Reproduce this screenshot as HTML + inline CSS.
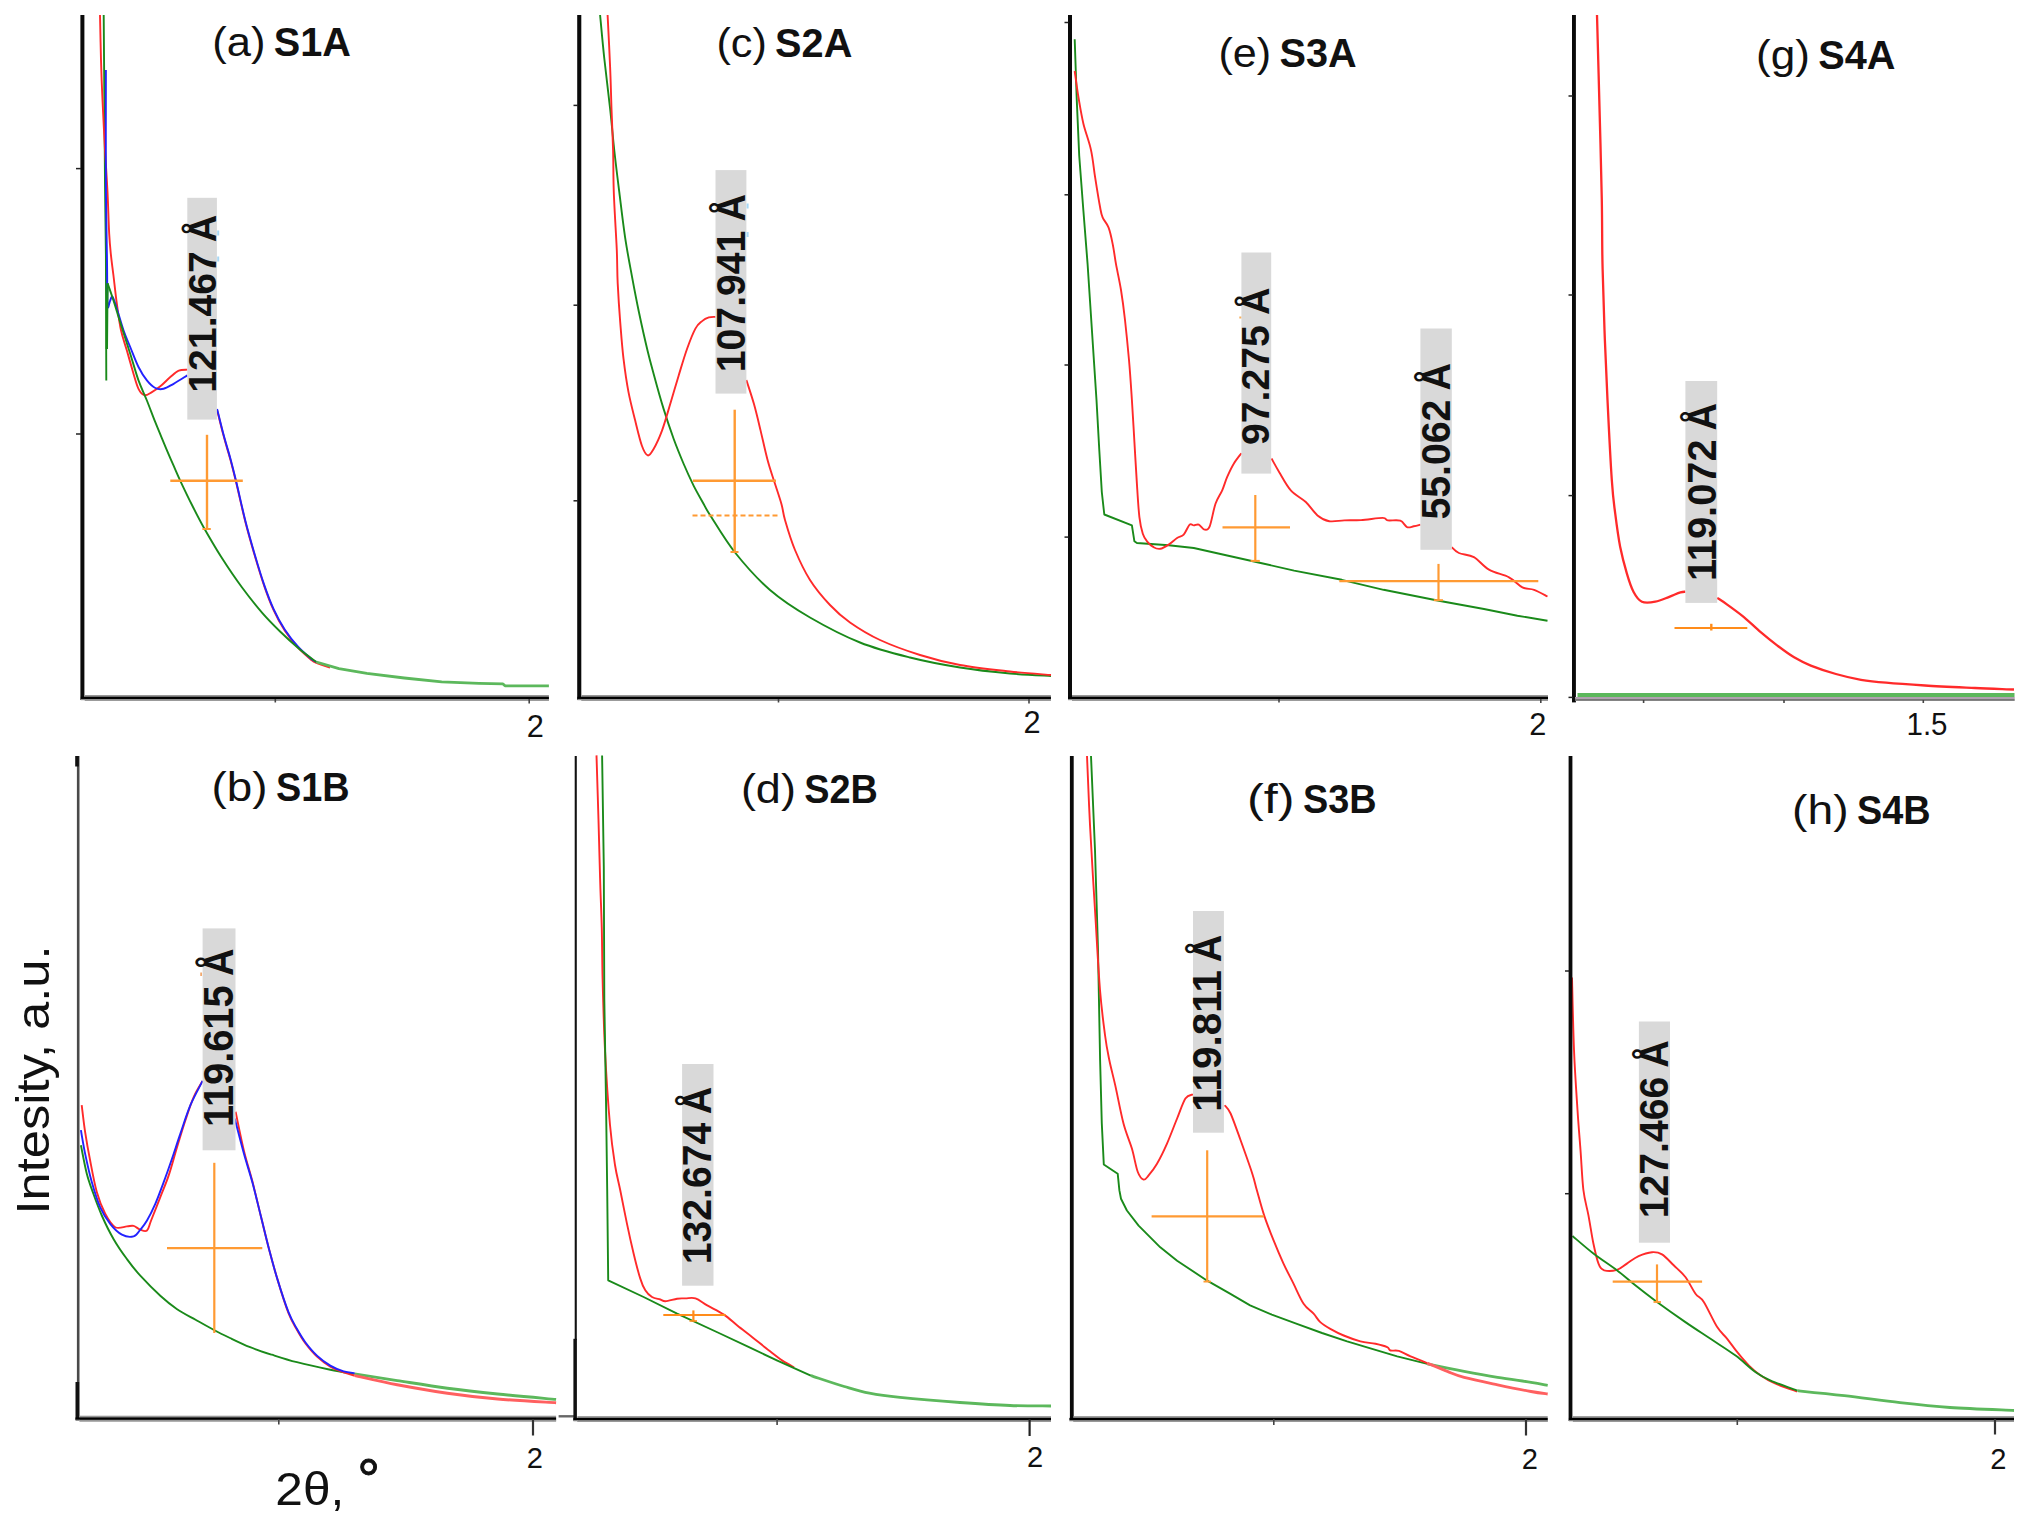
<!DOCTYPE html>
<html><head><meta charset="utf-8"><title>SAXS patterns</title>
<style>
html,body{margin:0;padding:0;background:#fff;}
body{width:2033px;height:1528px;overflow:hidden;}
svg{display:block;}
text{font-family:"Liberation Sans",sans-serif;fill:#111;}
</style></head><body>
<svg width="2033" height="1528" viewBox="0 0 2033 1528">
<rect width="2033" height="1528" fill="#fff"/>
<path d="M103.7,15.0 L105.0,183.6 L105.9,254.6 L106.3,380.4" fill="none" stroke="#1a8a1a" stroke-width="1.9" stroke-linejoin="round"/>
<path d="M100.0,15.0 C100.2,22.5 100.6,45.8 101.0,60.0 C101.4,74.2 101.8,85.0 102.5,100.0 C103.2,115.0 104.2,134.7 105.0,150.0 C105.8,165.3 106.8,178.1 107.5,192.0 C108.2,205.9 108.6,223.3 109.2,233.7 C109.8,244.1 110.2,247.7 110.9,254.6 C111.6,261.5 112.4,266.9 113.4,275.0 C114.4,283.1 115.5,294.3 116.8,303.5 C118.1,312.7 119.3,322.5 121.0,330.3 C122.7,338.1 124.7,343.1 126.8,350.3 C128.9,357.5 131.6,367.3 133.5,373.7 C135.4,380.1 136.7,385.2 138.5,388.8 C140.3,392.4 142.2,394.6 144.4,395.2 C146.6,395.8 149.2,393.6 151.9,392.1 C154.6,390.6 157.2,388.8 160.3,386.3 C163.4,383.8 167.2,379.7 170.3,377.1 C173.4,374.5 175.9,371.9 178.7,370.7 C181.5,369.4 185.9,369.8 187.3,369.6" fill="none" stroke="#ff2a2a" stroke-width="1.9" stroke-linejoin="round"/>
<path d="M217.1,409.9 C218.2,414.3 221.6,428.2 223.8,436.6 C226.0,445.0 228.5,452.5 230.5,460.0 C232.5,467.5 233.5,471.5 236.0,481.8 C238.5,492.1 242.3,509.7 245.4,522.0 C248.5,534.3 251.7,545.1 254.8,555.7 C257.9,566.3 261.0,576.6 264.1,585.6 C267.2,594.6 270.1,602.4 273.5,609.9 C276.9,617.4 280.6,624.2 284.7,630.4 C288.8,636.6 293.4,642.5 297.8,647.3 C302.2,652.1 307.7,656.8 310.8,659.4 C313.9,662.0 313.2,661.6 316.4,663.0 C319.6,664.4 327.7,666.8 330.0,667.5" fill="none" stroke="#ff2a2a" stroke-width="1.9" stroke-linejoin="round"/>
<path d="M105.9,70.0 C105.9,88.9 105.7,151.9 105.9,183.6 C106.1,215.3 106.7,239.8 107.0,260.0 C107.3,280.2 107.1,298.2 107.6,305.0 C108.1,311.8 109.2,302.4 110.0,301.0 C110.8,299.6 111.5,295.6 112.6,296.8 C113.7,298.1 115.0,302.9 116.8,308.5 C118.6,314.1 121.3,323.9 123.5,330.3 C125.7,336.7 127.7,340.9 130.2,347.0 C132.7,353.1 135.7,361.4 138.5,367.0 C141.3,372.6 144.1,376.9 146.9,380.4 C149.7,383.9 152.5,386.6 155.3,388.0 C158.1,389.4 160.6,389.5 163.6,388.8 C166.6,388.1 169.6,386.0 173.6,383.8 C177.6,381.6 185.0,376.8 187.3,375.4" fill="none" stroke="#2222ff" stroke-width="1.9" stroke-linejoin="round"/>
<path d="M217.1,408.9 C218.2,413.3 221.6,427.2 223.8,435.6 C226.0,444.0 228.5,451.5 230.5,459.0 C232.5,466.5 233.5,470.5 236.0,480.8 C238.5,491.1 242.3,508.7 245.4,521.0 C248.5,533.3 251.7,544.1 254.8,554.7 C257.9,565.3 261.0,575.6 264.1,584.6 C267.2,593.6 270.1,601.4 273.5,608.9 C276.9,616.4 280.6,623.2 284.7,629.4 C288.8,635.6 293.4,641.5 297.8,646.3 C302.2,651.1 307.7,655.8 310.8,658.4 C313.9,661.0 315.5,661.4 316.4,662.0" fill="none" stroke="#2222ff" stroke-width="1.9" stroke-linejoin="round"/>
<path d="M106.8,349.0 L107.2,300.0 L107.6,283.4" fill="none" stroke="#1a8a1a" stroke-width="2.4" stroke-linejoin="round"/>
<path d="M107.6,283.4 C108.6,286.2 111.3,293.8 113.4,300.2 C115.5,306.6 117.3,313.0 120.1,321.9 C122.9,330.8 127.1,343.9 130.2,353.7 C133.3,363.4 135.7,372.6 138.5,380.4 C141.3,388.2 144.1,393.5 146.9,400.5 C149.7,407.5 152.5,415.2 155.3,422.2 C158.1,429.2 160.6,435.1 163.6,442.3 C166.6,449.6 170.8,459.3 173.6,465.7 C176.4,472.1 177.2,474.2 180.3,480.8 C183.4,487.4 188.0,497.1 192.0,505.0 C196.0,513.0 199.5,519.9 204.3,528.5 C209.2,537.1 214.9,547.0 221.1,556.8 C227.3,566.5 234.8,577.7 241.7,587.0 C248.5,596.3 255.7,605.2 262.2,612.8 C268.7,620.3 274.7,626.2 280.9,632.3 C287.1,638.4 293.7,644.3 299.6,649.3 C305.5,654.2 313.6,659.9 316.4,662.0" fill="none" stroke="#1a8a1a" stroke-width="1.9" stroke-linejoin="round"/>
<path d="M316.4,662.0 L338.9,668.7 L366.9,673.4 L404.3,678.0 L441.7,681.8 L479.0,683.4 L503.0,683.9 L505.0,685.8 L548.9,685.9" fill="none" stroke="#5cb85c" stroke-width="2.8" stroke-linejoin="round"/>
<line x1="207" y1="434.8" x2="207" y2="529.4" stroke="#ff9a33" stroke-width="2.4"/>
<line x1="170.3" y1="480.8" x2="242.8" y2="480.8" stroke="#ff9a33" stroke-width="2.4"/>
<line x1="202.4" y1="529" x2="210.8" y2="529" stroke="#ff9a33" stroke-width="2"/>
<rect x="187.3" y="197.8" width="29.6" height="221.8" fill="#d9d9d9"/>
<g transform="translate(215.5,392.7) rotate(-90)" font-size="38.3" font-weight="bold"><text textLength="141.6" lengthAdjust="spacingAndGlyphs">121.467</text><text x="150.5" textLength="27.4" lengthAdjust="spacingAndGlyphs">Å</text></g>
<rect x="80.4" y="15" width="4" height="685" fill="#0a0a0a"/>
<rect x="84.8" y="695.0" width="464.1" height="5.8" fill="#979797"/>
<rect x="84.8" y="698.9499999999999" width="464.1" height="1.85" fill="#979797"/>
<rect x="80.8" y="696.75" width="468.1" height="2.3" fill="#000"/>
<rect x="80.8" y="698.9499999999999" width="4" height="1.25" fill="#8a8a8a"/>
<line x1="76" y1="168.6" x2="81" y2="168.6" stroke="#222" stroke-width="1.5"/>
<line x1="76" y1="434" x2="81" y2="434" stroke="#222" stroke-width="1.5"/>
<line x1="275.3" y1="699" x2="275.3" y2="702.5" stroke="#444" stroke-width="1.6"/>
<line x1="529.2" y1="699" x2="529.2" y2="703.5" stroke="#444" stroke-width="1.6"/>
<text x="526.8000000000001" y="736.6" font-size="31" fill="#1c1c1c" textLength="17.1" lengthAdjust="spacingAndGlyphs">2</text>
<text x="212.3" y="56.2" font-size="41.5" textLength="53.2" lengthAdjust="spacingAndGlyphs">(a)</text>
<text x="273.8" y="56.2" font-size="41.5" font-weight="bold" textLength="77.2" lengthAdjust="spacingAndGlyphs">S1A</text>
<path d="M600.1,15.0 C600.8,22.2 602.6,42.9 604.3,58.5 C606.0,74.1 608.4,93.4 610.1,108.7 C611.8,124.0 612.8,136.6 614.3,150.5 C615.8,164.4 617.5,177.7 619.3,192.2 C621.1,206.7 623.0,223.3 625.1,237.4 C627.2,251.5 629.7,264.2 632.0,276.6 C634.3,289.0 636.3,299.6 638.9,312.0 C641.5,324.4 645.2,340.9 647.7,351.2 C650.2,361.5 651.0,364.1 653.6,373.7 C656.2,383.3 660.2,398.0 663.6,408.9 C667.0,419.8 670.4,429.8 673.7,439.0 C677.1,448.2 680.4,456.2 683.7,464.0 C687.0,471.8 690.4,479.1 693.7,485.8 C697.1,492.5 701.1,499.3 703.8,504.2 C706.5,509.1 704.8,506.9 710.0,515.0 C715.2,523.0 725.0,540.0 735.0,552.5 C745.0,565.0 757.5,579.2 770.0,590.0 C782.5,600.8 795.0,608.8 810.0,617.5 C825.0,626.2 843.3,635.8 860.0,642.5 C876.7,649.2 893.3,653.3 910.0,657.5 C926.7,661.7 943.3,664.8 960.0,667.5 C976.7,670.2 994.8,672.1 1010.0,673.5 C1025.2,674.9 1044.2,675.6 1051.0,676.0" fill="none" stroke="#1a8a1a" stroke-width="1.9" stroke-linejoin="round"/>
<path d="M607.6,15.0 C608.0,23.6 609.5,51.3 610.1,66.9 C610.8,82.5 611.0,94.8 611.5,108.7 C612.0,122.6 612.7,136.6 613.1,150.5 C613.5,164.4 613.2,175.7 613.8,192.3 C614.4,208.9 616.1,234.8 616.8,250.0 C617.4,265.2 617.1,271.4 617.7,283.4 C618.3,295.4 619.2,309.3 620.2,321.9 C621.2,334.4 622.1,347.0 623.5,358.7 C624.9,370.4 626.5,381.8 628.5,392.1 C630.5,402.4 633.0,411.7 635.2,420.6 C637.4,429.5 639.8,439.9 641.9,445.7 C644.0,451.5 645.8,454.8 647.8,455.4 C649.8,455.9 651.2,453.1 653.6,449.0 C656.0,444.9 659.2,438.1 662.0,430.6 C664.8,423.1 667.5,413.0 670.3,403.8 C673.1,394.6 675.9,384.6 678.7,375.4 C681.5,366.2 684.3,356.5 687.1,348.7 C689.9,340.9 692.9,333.2 695.4,328.6 C697.9,324.0 699.9,323.0 702.1,321.1 C704.3,319.2 706.6,318.1 708.8,317.4 C711.0,316.7 714.4,317.0 715.5,316.9" fill="none" stroke="#ff2a2a" stroke-width="1.9" stroke-linejoin="round"/>
<path d="M746.4,380.0 C747.6,384.0 751.5,395.4 753.9,403.8 C756.3,412.2 758.4,421.4 760.6,430.6 C762.8,439.8 765.1,450.6 767.3,459.0 C769.5,467.4 771.6,473.3 774.0,480.8 C776.4,488.3 779.7,497.7 781.5,504.2 C783.3,510.7 782.8,512.4 785.0,520.0 C787.2,527.6 790.8,540.0 795.0,550.0 C799.2,560.0 804.2,570.8 810.0,580.0 C815.8,589.2 823.3,597.9 830.0,605.0 C836.7,612.1 841.7,616.7 850.0,622.5 C858.3,628.3 868.3,634.6 880.0,640.0 C891.7,645.4 906.7,650.8 920.0,655.0 C933.3,659.2 945.0,662.2 960.0,665.0 C975.0,667.8 994.8,669.8 1010.0,671.5 C1025.2,673.2 1044.2,674.4 1051.0,675.0" fill="none" stroke="#ff2a2a" stroke-width="1.9" stroke-linejoin="round"/>
<line x1="734.7" y1="409.7" x2="734.7" y2="552.5" stroke="#ff9a33" stroke-width="2.4"/>
<line x1="692.9" y1="480.8" x2="776" y2="480.8" stroke="#ff9a33" stroke-width="2.4"/>
<line x1="692.5" y1="515.5" x2="777.5" y2="515.5" stroke="#ff9a33" stroke-width="2" stroke-dasharray="5,3"/>
<line x1="730.5" y1="552" x2="738.5" y2="552" stroke="#ff9a33" stroke-width="2"/>
<rect x="715.5" y="170.1" width="30.9" height="223.5" fill="#d9d9d9"/>
<g transform="translate(745.2,372.2) rotate(-90)" font-size="40.1" font-weight="bold"><text textLength="141.6" lengthAdjust="spacingAndGlyphs">107.941</text><text x="150.8" textLength="27.4" lengthAdjust="spacingAndGlyphs">Å</text></g>
<rect x="577.2" y="15" width="4.1" height="685" fill="#0a0a0a"/>
<rect x="581.4" y="695.0" width="469.5" height="5.8" fill="#979797"/>
<rect x="581.4" y="698.9499999999999" width="469.5" height="1.85" fill="#979797"/>
<rect x="577.4" y="696.75" width="473.5" height="2.3" fill="#000"/>
<rect x="577.4" y="698.9499999999999" width="4" height="1.25" fill="#8a8a8a"/>
<line x1="573.5" y1="105.4" x2="578" y2="105.4" stroke="#222" stroke-width="1.5"/>
<line x1="573.5" y1="305.2" x2="578" y2="305.2" stroke="#222" stroke-width="1.5"/>
<line x1="573.5" y1="500.8" x2="578" y2="500.8" stroke="#222" stroke-width="1.5"/>
<line x1="778.5" y1="699" x2="778.5" y2="702.5" stroke="#444" stroke-width="1.6"/>
<line x1="1029" y1="699" x2="1029" y2="703.5" stroke="#444" stroke-width="1.6"/>
<text x="1023.4000000000001" y="732.7" font-size="31" fill="#1c1c1c" textLength="17.1" lengthAdjust="spacingAndGlyphs">2</text>
<text x="716.4" y="56.5" font-size="41.5" textLength="50.4" lengthAdjust="spacingAndGlyphs">(c)</text>
<text x="775.1" y="56.5" font-size="41.5" font-weight="bold" textLength="77.2" lengthAdjust="spacingAndGlyphs">S2A</text>
<path d="M1074.7,39.3 L1076.7,98.6 L1079.2,155.5 L1083.4,210.7 L1087.6,264.2 L1096.5,400.0 L1099.3,450.2 L1101.8,492.0 L1104.3,514.5 L1131.9,525.4 L1134.4,541.3 L1136.9,543.0 L1168.7,545.2 L1193.8,548.0 L1227.2,555.5 L1260.7,563.0 L1294.1,570.6 L1341.8,579.8 L1383.6,589.8 L1438.8,600.7 L1484.0,609.0 L1517.4,615.7 L1547.5,620.7" fill="none" stroke="#1a8a1a" stroke-width="1.9" stroke-linejoin="round"/>
<path d="M1074.7,71.0 C1075.3,75.3 1077.0,88.2 1078.4,97.0 C1079.9,105.8 1081.3,114.9 1083.4,123.7 C1085.5,132.5 1089.0,140.7 1090.9,149.6 C1092.9,158.5 1093.6,167.6 1095.1,177.2 C1096.6,186.8 1098.8,200.6 1100.1,207.3 C1101.3,214.0 1101.2,214.1 1102.6,217.4 C1104.0,220.8 1106.8,223.0 1108.5,227.4 C1110.2,231.8 1111.5,238.0 1112.7,244.1 C1114.0,250.2 1114.6,256.6 1116.0,264.2 C1117.4,271.8 1119.5,280.7 1121.0,290.0 C1122.5,299.3 1123.7,308.3 1125.0,320.0 C1126.3,331.7 1127.8,346.7 1129.0,360.0 C1130.2,373.3 1131.0,386.4 1131.9,400.0 C1132.8,413.6 1133.6,427.9 1134.4,441.8 C1135.2,455.7 1136.1,471.1 1136.9,483.6 C1137.7,496.2 1138.4,508.7 1139.4,517.1 C1140.4,525.5 1141.5,529.8 1142.8,533.8 C1144.1,537.8 1145.2,539.1 1147.0,541.3 C1148.8,543.5 1151.4,546.0 1153.6,547.2 C1155.8,548.5 1157.8,549.2 1160.3,548.8 C1162.8,548.4 1165.9,546.4 1168.7,544.6 C1171.5,542.8 1174.6,539.7 1177.1,538.0 C1179.6,536.3 1181.6,536.8 1183.7,534.6 C1185.8,532.4 1187.9,526.1 1189.6,524.6 C1191.3,523.1 1192.3,525.4 1193.8,525.4 C1195.3,525.4 1197.0,523.9 1198.8,524.6 C1200.6,525.3 1202.8,529.3 1204.6,529.6 C1206.4,529.9 1207.9,530.6 1209.7,526.3 C1211.5,522.0 1213.4,509.7 1215.5,503.7 C1217.6,497.7 1220.2,494.8 1222.2,490.3 C1224.2,485.8 1225.2,481.4 1227.2,476.9 C1229.2,472.4 1231.5,467.4 1233.9,463.5 C1236.3,459.6 1240.2,454.9 1241.4,453.2" fill="none" stroke="#ff2a2a" stroke-width="1.9" stroke-linejoin="round"/>
<path d="M1271.5,458.5 C1272.8,460.7 1275.9,466.6 1279.1,471.9 C1282.3,477.2 1286.3,485.3 1290.8,490.3 C1295.2,495.3 1301.3,497.8 1305.8,502.0 C1310.2,506.2 1313.6,512.2 1317.5,515.4 C1321.4,518.6 1324.7,520.4 1329.2,521.2 C1333.7,522.0 1339.0,520.6 1344.3,520.4 C1349.6,520.2 1354.6,520.5 1361.0,520.1 C1367.4,519.7 1378.2,517.9 1382.7,517.9 C1387.2,517.9 1384.9,519.9 1387.8,520.4 C1390.7,520.9 1397.1,519.6 1400.3,520.7 C1403.5,521.8 1404.8,526.2 1407.0,527.1 C1409.2,528.0 1411.5,526.7 1413.7,526.3 C1415.9,525.9 1419.3,524.9 1420.4,524.6" fill="none" stroke="#ff2a2a" stroke-width="1.9" stroke-linejoin="round"/>
<path d="M1451.8,547.2 C1453.0,548.2 1455.2,551.3 1458.9,553.0 C1462.6,554.7 1468.9,554.4 1473.9,557.2 C1478.9,560.0 1483.2,566.4 1489.0,569.7 C1494.8,573.1 1503.4,574.4 1509.0,577.3 C1514.6,580.2 1518.2,585.2 1522.4,587.3 C1526.6,589.4 1529.9,588.3 1534.1,589.8 C1538.3,591.3 1545.3,595.4 1547.5,596.5" fill="none" stroke="#ff2a2a" stroke-width="1.9" stroke-linejoin="round"/>
<line x1="1255.3" y1="495" x2="1255.3" y2="560.9" stroke="#ff9a33" stroke-width="2.2"/>
<line x1="1222.5" y1="527.4" x2="1290" y2="527.4" stroke="#ff9a33" stroke-width="2.2"/>
<line x1="1250.6" y1="560.9" x2="1259.8" y2="560.9" stroke="#ff9a33" stroke-width="2"/>
<line x1="1438.5" y1="563.9" x2="1438.5" y2="600.2" stroke="#ff9a33" stroke-width="2.2"/>
<line x1="1339.3" y1="581.1" x2="1538.3" y2="581.1" stroke="#ff9a33" stroke-width="2.2"/>
<line x1="1433.8" y1="600.2" x2="1443" y2="600.2" stroke="#ff9a33" stroke-width="2"/>
<rect x="1241.4" y="252.5" width="29.8" height="221.1" fill="#d9d9d9"/>
<g transform="translate(1269,445.0) rotate(-90)" font-size="38.5" font-weight="bold"><text textLength="119.9" lengthAdjust="spacingAndGlyphs">97.275</text><text x="130.0" textLength="27.4" lengthAdjust="spacingAndGlyphs">Å</text></g>
<rect x="1420.4" y="328.5" width="31.4" height="221.3" fill="#d9d9d9"/>
<g transform="translate(1449.7,519.5) rotate(-90)" font-size="40.8" font-weight="bold"><text textLength="119.9" lengthAdjust="spacingAndGlyphs">55.062</text><text x="129.0" textLength="27.4" lengthAdjust="spacingAndGlyphs">Å</text></g>
<rect x="1068" y="15" width="4" height="685" fill="#0a0a0a"/>
<rect x="1072" y="695.0" width="476" height="5.8" fill="#979797"/>
<rect x="1072" y="698.9499999999999" width="476" height="1.85" fill="#979797"/>
<rect x="1068" y="696.75" width="480" height="2.3" fill="#000"/>
<rect x="1068" y="698.9499999999999" width="4" height="1.25" fill="#8a8a8a"/>
<line x1="1064.5" y1="22.5" x2="1068.5" y2="22.5" stroke="#222" stroke-width="1.5"/>
<line x1="1064.5" y1="194.8" x2="1068.5" y2="194.8" stroke="#222" stroke-width="1.5"/>
<line x1="1064.5" y1="365" x2="1068.5" y2="365" stroke="#222" stroke-width="1.5"/>
<line x1="1064.5" y1="537.1" x2="1068.5" y2="537.1" stroke="#222" stroke-width="1.5"/>
<line x1="1279" y1="699" x2="1279" y2="702.5" stroke="#444" stroke-width="1.6"/>
<line x1="1540.8" y1="699" x2="1540.8" y2="703" stroke="#444" stroke-width="1.6"/>
<text x="1529.2" y="734.8" font-size="31" fill="#1c1c1c" textLength="17.1" lengthAdjust="spacingAndGlyphs">2</text>
<text x="1218.5" y="67" font-size="41.5" textLength="52.7" lengthAdjust="spacingAndGlyphs">(e)</text>
<text x="1279.5" y="67" font-size="41.5" font-weight="bold" textLength="77.2" lengthAdjust="spacingAndGlyphs">S3A</text>
<path d="M1597.0,15.0 C1597.4,29.2 1598.5,69.2 1599.3,100.0 C1600.1,130.8 1601.3,172.7 1601.8,200.0 C1602.3,227.3 1602.0,242.3 1602.5,264.0 C1603.0,285.7 1603.7,307.3 1604.5,330.0 C1605.3,352.7 1606.3,375.0 1607.5,400.0 C1608.7,425.0 1610.5,461.1 1611.8,480.0 C1613.1,498.9 1613.8,502.2 1615.2,513.4 C1616.6,524.5 1618.2,536.9 1620.2,546.9 C1622.2,556.9 1624.7,566.1 1626.9,573.6 C1629.1,581.1 1631.1,587.3 1633.6,592.0 C1636.1,596.7 1638.3,600.1 1641.9,601.7 C1645.5,603.3 1650.8,602.5 1655.3,601.7 C1659.8,600.9 1664.5,598.7 1668.7,597.1 C1672.9,595.5 1677.6,593.3 1680.4,592.4 C1683.2,591.5 1684.6,591.8 1685.4,591.7" fill="none" stroke="#ff2a2a" stroke-width="2.3" stroke-linejoin="round"/>
<path d="M1717.2,597.9 C1718.9,599.0 1722.8,601.4 1727.2,604.6 C1731.7,607.8 1738.3,612.5 1743.9,617.1 C1749.5,621.7 1755.1,627.5 1760.7,632.2 C1766.3,637.0 1771.8,641.4 1777.4,645.6 C1783.0,649.8 1788.5,654.0 1794.1,657.3 C1799.7,660.6 1803.8,662.8 1810.8,665.6 C1817.8,668.4 1827.5,671.6 1835.9,674.0 C1844.3,676.4 1852.6,678.3 1861.0,679.8 C1869.4,681.2 1875.4,681.8 1886.1,682.7 C1896.8,683.7 1910.2,684.6 1925.0,685.5 C1939.8,686.4 1960.2,687.3 1975.0,688.0 C1989.8,688.7 2007.5,689.2 2014.0,689.5" fill="none" stroke="#ff2a2a" stroke-width="2.3" stroke-linejoin="round"/>
<line x1="1674.5" y1="628" x2="1747.3" y2="628" stroke="#ff8c1a" stroke-width="2"/>
<line x1="1711.3" y1="623.8" x2="1711.3" y2="630.5" stroke="#ff8c1a" stroke-width="2.4"/>
<rect x="1685.4" y="381" width="31.8" height="221.9" fill="#d9d9d9"/>
<g transform="translate(1715.9,581.1) rotate(-90)" font-size="41.3" font-weight="bold"><text textLength="141.6" lengthAdjust="spacingAndGlyphs">119.072</text><text x="150.5" textLength="27.4" lengthAdjust="spacingAndGlyphs">Å</text></g>
<rect x="1572" y="15" width="3.9" height="687.4" fill="#0a0a0a"/>
<rect x="1577.5" y="693" width="437" height="4" fill="#5cb85c"/>
<rect x="1575" y="697" width="439.7" height="1.9" fill="#b0a0b0"/>
<rect x="1575" y="698.9" width="439.7" height="2" fill="#777"/>
<line x1="1568.5" y1="96" x2="1573" y2="96" stroke="#222" stroke-width="1.5"/>
<line x1="1568.5" y1="295" x2="1573" y2="295" stroke="#222" stroke-width="1.5"/>
<line x1="1568.5" y1="495.6" x2="1573" y2="495.6" stroke="#222" stroke-width="1.5"/>
<line x1="1568.5" y1="697.4" x2="1573" y2="697.4" stroke="#222" stroke-width="1.5"/>
<line x1="1643.6" y1="700" x2="1643.6" y2="703" stroke="#444" stroke-width="1.6"/>
<line x1="1784" y1="700" x2="1784" y2="703" stroke="#444" stroke-width="1.6"/>
<line x1="1923.3" y1="700" x2="1923.3" y2="703" stroke="#444" stroke-width="1.6"/>
<text x="1906.5" y="734.6" font-size="31" fill="#1c1c1c" textLength="41" lengthAdjust="spacingAndGlyphs">1.5</text>
<text x="1756.1" y="68.8" font-size="41.5" textLength="53.9" lengthAdjust="spacingAndGlyphs">(g)</text>
<text x="1818.3" y="68.8" font-size="41.5" font-weight="bold" textLength="77.2" lengthAdjust="spacingAndGlyphs">S4A</text>
<path d="M80.9,1145.3 C81.9,1150.0 84.7,1165.6 86.8,1173.7 C88.9,1181.8 90.9,1186.8 93.4,1193.8 C95.9,1200.8 98.5,1208.0 101.8,1215.5 C105.1,1223.0 109.3,1231.7 113.5,1238.9 C117.7,1246.2 122.4,1252.9 126.9,1259.0 C131.4,1265.1 134.7,1269.6 140.3,1275.7 C145.9,1281.8 154.2,1290.2 160.3,1295.8 C166.4,1301.4 171.2,1305.2 177.1,1309.2 C183.0,1313.2 189.8,1316.5 196.0,1320.0 C202.2,1323.5 208.3,1327.0 214.0,1330.0 C219.7,1333.0 224.0,1335.1 230.0,1338.0 C236.0,1340.9 243.1,1344.4 250.1,1347.2 C257.1,1350.0 264.0,1352.2 271.8,1354.7 C279.6,1357.2 287.1,1359.7 296.9,1362.2 C306.6,1364.7 320.7,1367.8 330.3,1369.8 C339.9,1371.8 350.6,1373.2 354.6,1373.9" fill="none" stroke="#1a8a1a" stroke-width="1.9" stroke-linejoin="round"/>
<path d="M354.6,1373.9 C361.7,1375.0 381.7,1378.2 397.2,1380.6 C412.7,1383.0 430.7,1386.0 447.4,1388.2 C464.1,1390.4 479.5,1392.1 497.6,1394.0 C515.7,1395.9 546.4,1398.5 556.1,1399.4" fill="none" stroke="#5cb85c" stroke-width="2.9" stroke-linejoin="round"/>
<path d="M81.7,1105.2 C82.3,1109.7 83.7,1122.7 85.1,1131.9 C86.5,1141.1 88.1,1150.3 90.1,1160.3 C92.0,1170.3 94.3,1183.2 96.8,1192.1 C99.3,1201.0 102.1,1207.9 105.2,1213.8 C108.3,1219.7 111.6,1225.1 115.2,1227.2 C118.8,1229.3 123.8,1226.6 126.9,1226.4 C130.0,1226.2 131.4,1225.4 133.6,1225.9 C135.8,1226.5 138.1,1228.9 140.3,1229.7 C142.5,1230.5 145.2,1232.1 147.0,1230.6 C148.8,1229.1 148.9,1226.1 151.1,1220.5 C153.3,1214.9 157.4,1204.6 160.3,1197.1 C163.2,1189.6 165.9,1183.8 168.7,1175.4 C171.5,1167.1 174.3,1156.2 177.1,1147.0 C179.9,1137.8 182.6,1128.6 185.4,1120.2 C188.2,1111.8 190.9,1103.3 193.8,1096.8 C196.7,1090.2 201.1,1083.6 202.6,1080.9" fill="none" stroke="#ff2a2a" stroke-width="1.9" stroke-linejoin="round"/>
<path d="M235.6,1111.8 C237.0,1118.3 241.1,1139.0 243.9,1150.6 C246.7,1162.1 249.5,1170.3 252.3,1181.1 C255.1,1191.9 257.9,1204.2 260.7,1215.5 C263.5,1226.8 266.2,1238.4 269.0,1249.0 C271.8,1259.6 274.1,1268.4 277.4,1279.1 C280.6,1289.8 285.2,1304.6 288.5,1313.1 C291.8,1321.5 294.1,1324.8 296.9,1329.8 C299.7,1334.8 301.9,1338.7 305.3,1343.2 C308.7,1347.7 312.8,1352.7 317.0,1356.6 C321.2,1360.5 325.9,1364.0 330.3,1366.6 C334.8,1369.2 339.6,1370.9 343.7,1372.4 C347.8,1373.9 352.8,1375.1 354.6,1375.6" fill="none" stroke="#ff2a2a" stroke-width="1.9" stroke-linejoin="round"/>
<path d="M354.6,1375.6 C361.7,1377.1 381.7,1381.9 397.2,1384.8 C412.7,1387.7 430.7,1390.8 447.4,1393.2 C464.1,1395.6 479.5,1397.4 497.6,1399.0 C515.7,1400.6 546.4,1402.1 556.1,1402.7" fill="none" stroke="#ff6060" stroke-width="2.9" stroke-linejoin="round"/>
<path d="M80.9,1130.2 C81.6,1134.1 83.3,1144.9 85.1,1153.6 C86.9,1162.2 89.3,1173.2 91.8,1182.1 C94.3,1191.0 97.0,1200.2 100.1,1207.2 C103.2,1214.2 106.6,1219.3 110.2,1223.9 C113.8,1228.5 118.0,1232.6 121.9,1234.7 C125.8,1236.8 130.5,1237.2 133.6,1236.4 C136.7,1235.6 138.1,1232.4 140.3,1229.7 C142.5,1227.0 144.5,1224.8 147.0,1220.5 C149.5,1216.2 152.5,1210.2 155.3,1203.8 C158.1,1197.4 160.9,1189.6 163.7,1182.1 C166.5,1174.6 169.2,1166.8 172.0,1158.7 C174.8,1150.6 177.3,1142.5 180.4,1133.6 C183.5,1124.7 186.7,1114.0 190.4,1105.2 C194.1,1096.4 200.6,1085.0 202.6,1080.9" fill="none" stroke="#2222ff" stroke-width="1.9" stroke-linejoin="round"/>
<path d="M234.7,1118.5 C236.2,1124.3 241.0,1143.0 243.9,1153.6 C246.8,1164.2 249.5,1171.8 252.3,1182.1 C255.1,1192.4 257.9,1204.3 260.7,1215.5 C263.5,1226.7 266.2,1238.4 269.0,1249.0 C271.8,1259.6 274.1,1268.6 277.4,1279.1 C280.6,1289.6 285.2,1303.8 288.5,1312.1 C291.8,1320.4 294.1,1323.8 296.9,1328.8 C299.7,1333.8 301.9,1337.7 305.3,1342.2 C308.7,1346.7 312.8,1351.7 317.0,1355.6 C321.2,1359.5 325.9,1363.0 330.3,1365.6 C334.8,1368.2 339.6,1370.2 343.7,1371.4 C347.8,1372.7 352.8,1372.8 354.6,1373.1" fill="none" stroke="#2222ff" stroke-width="1.9" stroke-linejoin="round"/>
<line x1="214.3" y1="1162.8" x2="214.3" y2="1333" stroke="#ff9a33" stroke-width="2.2"/>
<line x1="167" y1="1248.1" x2="262.3" y2="1248.1" stroke="#ff9a33" stroke-width="2.2"/>
<rect x="202.6" y="928.4" width="32.9" height="221.9" fill="#d9d9d9"/>
<g transform="translate(232.6,1127.0) rotate(-90)" font-size="42.9" font-weight="bold"><text textLength="141.6" lengthAdjust="spacingAndGlyphs">119.615</text><text x="151.0" textLength="27.4" lengthAdjust="spacingAndGlyphs">Å</text></g>
<rect x="76.9" y="756" width="2.6" height="626" fill="#4a4a4a"/>
<rect x="75.2" y="756" width="3.6" height="10.5" fill="#111"/>
<rect x="75.5" y="1382" width="4" height="38" fill="#111"/>
<rect x="79.5" y="1415.7" width="476.6" height="5.8" fill="#979797"/>
<rect x="79.5" y="1419.65" width="476.6" height="1.85" fill="#979797"/>
<rect x="75.5" y="1417.45" width="480.6" height="2.3" fill="#000"/>
<rect x="75.5" y="1419.65" width="4" height="1.25" fill="#8a8a8a"/>
<line x1="558.6" y1="1416.3" x2="574" y2="1416.3" stroke="#666" stroke-width="2.4"/>
<line x1="278.8" y1="1419" x2="278.8" y2="1424.5" stroke="#444" stroke-width="1.6"/>
<line x1="533" y1="1419" x2="533" y2="1435.5" stroke="#333" stroke-width="2.2"/>
<text x="526.8000000000001" y="1468.4" font-size="29.5" fill="#1c1c1c" textLength="16.2" lengthAdjust="spacingAndGlyphs">2</text>
<text x="211.6" y="801.2" font-size="41.5" textLength="56.0" lengthAdjust="spacingAndGlyphs">(b)</text>
<text x="275.9" y="801.2" font-size="41.5" font-weight="bold" textLength="73.6" lengthAdjust="spacingAndGlyphs">S1B</text>
<path d="M596.5,755.4 C596.8,766.2 597.9,799.7 598.5,820.3 C599.1,840.9 599.6,860.7 600.1,878.8 C600.6,896.9 601.4,912.2 601.8,928.9 C602.2,945.6 602.1,958.9 602.6,979.1 C603.1,999.3 603.8,1025.7 605.0,1050.0 C606.2,1074.3 608.3,1105.8 610.0,1125.0 C611.7,1144.2 613.3,1154.2 615.0,1165.0 C616.7,1175.8 618.2,1180.3 620.2,1190.0 C622.2,1199.7 624.7,1212.8 626.9,1223.4 C629.1,1234.0 631.4,1244.3 633.6,1253.5 C635.8,1262.7 638.3,1272.5 640.3,1278.6 C642.2,1284.7 643.3,1287.2 645.3,1290.3 C647.2,1293.4 649.5,1295.5 652.0,1297.0 C654.5,1298.5 658.1,1298.8 660.3,1299.5 C662.5,1300.2 662.6,1301.3 665.4,1301.2 C668.2,1301.1 673.8,1299.2 677.1,1298.7 C680.4,1298.2 682.3,1298.5 685.4,1298.4 C688.5,1298.4 691.9,1297.2 695.5,1298.4 C699.1,1299.6 702.5,1302.7 707.2,1305.4 C711.9,1308.1 718.9,1311.2 723.9,1314.6 C728.9,1317.9 732.6,1321.7 737.3,1325.5 C742.0,1329.3 747.0,1333.0 752.3,1337.2 C757.6,1341.4 764.0,1346.6 769.0,1350.5 C774.0,1354.4 778.2,1357.8 782.4,1360.6 C786.6,1363.4 792.1,1366.2 794.1,1367.3" fill="none" stroke="#ff2a2a" stroke-width="1.9" stroke-linejoin="round"/>
<path d="M602.1,755.4 L603.8,867.0 L604.3,999.0 L606.0,1100.0 L607.2,1190.0 L608.2,1280.3 L643.6,1297.0 L677.1,1313.7 L718.9,1333.0 L749.0,1347.2 L777.4,1360.6 L810.8,1375.6" fill="none" stroke="#1a8a1a" stroke-width="1.9" stroke-linejoin="round"/>
<path d="M810.8,1375.6 C816.4,1377.4 834.5,1383.6 844.3,1386.5 C854.1,1389.4 860.1,1391.4 869.4,1393.2 C878.7,1395.0 884.9,1395.9 900.0,1397.4 C915.1,1399.0 941.7,1401.2 960.0,1402.5 C978.3,1403.8 994.8,1404.9 1010.0,1405.5 C1025.2,1406.1 1044.2,1405.9 1051.0,1406.0" fill="none" stroke="#5cb85c" stroke-width="2.8" stroke-linejoin="round"/>
<line x1="663.3" y1="1315.1" x2="725.6" y2="1315.1" stroke="#ff8c1a" stroke-width="2"/>
<line x1="693.4" y1="1310.4" x2="693.4" y2="1321.3" stroke="#ff8c1a" stroke-width="2.2"/>
<line x1="689.5" y1="1321" x2="697" y2="1321" stroke="#ff8c1a" stroke-width="1.6"/>
<rect x="682.1" y="1064" width="31.4" height="221.7" fill="#d9d9d9"/>
<g transform="translate(711.3,1264.3000000000002) rotate(-90)" font-size="40.8" font-weight="bold"><text textLength="141.6" lengthAdjust="spacingAndGlyphs">132.674</text><text x="150.0" textLength="27.4" lengthAdjust="spacingAndGlyphs">Å</text></g>
<rect x="574.7" y="756" width="2.1" height="584" fill="#111"/>
<rect x="573.4" y="1338.8" width="3.5" height="82" fill="#111"/>
<rect x="577.4" y="1416.1" width="473.6" height="5.8" fill="#979797"/>
<rect x="577.4" y="1420.0500000000002" width="473.6" height="1.85" fill="#979797"/>
<rect x="573.4" y="1417.85" width="477.6" height="2.3" fill="#000"/>
<rect x="573.4" y="1420.0500000000002" width="4" height="1.25" fill="#8a8a8a"/>
<line x1="777.1" y1="1419" x2="777.1" y2="1425" stroke="#444" stroke-width="1.6"/>
<line x1="1029.6" y1="1419" x2="1029.6" y2="1436" stroke="#222" stroke-width="2.2"/>
<text x="1027.0" y="1467.4" font-size="29.5" fill="#1c1c1c" textLength="16.2" lengthAdjust="spacingAndGlyphs">2</text>
<text x="740.9" y="803.2" font-size="41.5" textLength="55.0" lengthAdjust="spacingAndGlyphs">(d)</text>
<text x="804.2" y="803.2" font-size="41.5" font-weight="bold" textLength="73.6" lengthAdjust="spacingAndGlyphs">S2B</text>
<path d="M1091.0,756.0 L1095.0,850.0 L1098.0,950.0 L1100.1,1060.0 L1101.8,1123.5 L1103.8,1164.5 L1117.7,1173.7 L1119.4,1190.4 L1121.0,1198.8 L1126.9,1210.5 L1138.6,1225.6 L1160.3,1247.3 L1177.1,1260.7 L1207.2,1280.7 L1230.0,1293.7 L1250.1,1305.4 L1271.8,1314.6 L1296.9,1323.8 L1322.0,1333.0 L1347.1,1341.3 L1372.1,1348.9 L1397.2,1356.4 L1427.3,1363.9" fill="none" stroke="#1a8a1a" stroke-width="1.9" stroke-linejoin="round"/>
<path d="M1427.3,1363.9 C1433.4,1365.2 1452.4,1369.2 1464.1,1371.4 C1475.8,1373.6 1486.4,1375.5 1497.6,1377.3 C1508.8,1379.1 1522.7,1381.0 1531.0,1382.3 C1539.3,1383.6 1544.9,1384.8 1547.7,1385.3" fill="none" stroke="#5cb85c" stroke-width="2.8" stroke-linejoin="round"/>
<path d="M1087.0,756.0 C1087.5,767.5 1088.7,799.3 1090.0,825.0 C1091.3,850.7 1093.3,882.5 1095.0,910.0 C1096.7,937.5 1098.3,969.2 1100.0,990.0 C1101.7,1010.8 1103.5,1023.3 1105.0,1035.0 C1106.5,1046.7 1107.6,1051.7 1109.3,1060.0 C1111.0,1068.3 1112.8,1074.5 1115.2,1085.1 C1117.6,1095.7 1120.7,1112.9 1123.5,1123.5 C1126.3,1134.1 1129.5,1140.5 1131.9,1148.6 C1134.3,1156.7 1135.8,1166.8 1137.8,1172.0 C1139.8,1177.2 1141.8,1179.0 1143.6,1179.6 C1145.4,1180.2 1146.4,1178.1 1148.6,1175.4 C1150.8,1172.8 1153.9,1169.0 1157.0,1163.7 C1160.1,1158.4 1163.7,1151.1 1167.0,1143.6 C1170.3,1136.1 1174.0,1126.0 1177.1,1118.5 C1180.2,1111.0 1182.8,1102.5 1185.4,1098.5 C1188.1,1094.5 1191.7,1095.0 1193.0,1094.3" fill="none" stroke="#ff2a2a" stroke-width="1.9" stroke-linejoin="round"/>
<path d="M1224.7,1105.2 C1225.7,1106.6 1227.9,1107.7 1230.6,1113.5 C1233.2,1119.3 1237.0,1130.3 1240.6,1140.3 C1244.2,1150.3 1249.6,1165.4 1252.3,1173.7 C1255.0,1182.0 1254.8,1183.0 1256.8,1190.0 C1258.8,1197.0 1261.5,1207.5 1264.3,1215.9 C1267.1,1224.3 1270.3,1232.2 1273.5,1240.2 C1276.7,1248.2 1280.2,1256.4 1283.5,1263.6 C1286.8,1270.8 1290.2,1276.9 1293.5,1283.6 C1296.8,1290.3 1300.2,1298.7 1303.6,1303.7 C1306.9,1308.7 1310.8,1310.6 1313.6,1313.7 C1316.4,1316.8 1317.5,1319.6 1320.3,1322.1 C1323.1,1324.6 1326.4,1326.6 1330.3,1328.8 C1334.2,1331.0 1338.7,1333.4 1343.7,1335.5 C1348.7,1337.6 1355.1,1339.9 1360.4,1341.3 C1365.7,1342.7 1371.0,1342.8 1375.5,1343.8 C1380.0,1344.8 1384.7,1346.1 1387.2,1347.2 C1389.7,1348.3 1388.5,1349.9 1390.5,1350.5 C1392.5,1351.1 1395.6,1349.9 1398.9,1350.9 C1402.2,1351.9 1405.9,1354.4 1410.6,1356.4 C1415.3,1358.4 1424.5,1362.0 1427.3,1363.1" fill="none" stroke="#ff2a2a" stroke-width="1.9" stroke-linejoin="round"/>
<path d="M1427.3,1363.1 C1430.7,1364.5 1441.3,1369.0 1447.4,1371.4 C1453.5,1373.8 1455.7,1375.1 1464.1,1377.3 C1472.5,1379.5 1486.4,1382.4 1497.6,1384.8 C1508.8,1387.2 1522.7,1390.0 1531.0,1391.5 C1539.3,1393.0 1544.9,1393.6 1547.7,1394.0" fill="none" stroke="#ff6060" stroke-width="2.8" stroke-linejoin="round"/>
<line x1="1207.2" y1="1150.3" x2="1207.2" y2="1281.6" stroke="#ff9a33" stroke-width="2.2"/>
<line x1="1151.6" y1="1216.4" x2="1264" y2="1216.4" stroke="#ff9a33" stroke-width="2.2"/>
<line x1="1203.5" y1="1281.6" x2="1211" y2="1281.6" stroke="#ff9a33" stroke-width="1.8"/>
<rect x="1193" y="911" width="30.9" height="221.7" fill="#d9d9d9"/>
<g transform="translate(1221.4,1111.7) rotate(-90)" font-size="40.1" font-weight="bold"><text textLength="141.6" lengthAdjust="spacingAndGlyphs">119.811</text><text x="149.5" textLength="27.4" lengthAdjust="spacingAndGlyphs">Å</text></g>
<rect x="1069.9" y="756" width="3.8" height="665" fill="#0a0a0a"/>
<rect x="1073.4" y="1416.1" width="474.3" height="5.8" fill="#979797"/>
<rect x="1073.4" y="1420.0500000000002" width="474.3" height="1.85" fill="#979797"/>
<rect x="1069.4" y="1417.85" width="478.3" height="2.3" fill="#000"/>
<rect x="1069.4" y="1420.0500000000002" width="4" height="1.25" fill="#8a8a8a"/>
<line x1="1273.8" y1="1419" x2="1273.8" y2="1425" stroke="#444" stroke-width="1.6"/>
<line x1="1526" y1="1419" x2="1526" y2="1435.5" stroke="#333" stroke-width="2.2"/>
<text x="1521.7" y="1469" font-size="29.5" fill="#1c1c1c" textLength="16.2" lengthAdjust="spacingAndGlyphs">2</text>
<text x="1247.1" y="812.5" font-size="41.5" textLength="47.5" lengthAdjust="spacingAndGlyphs">(f)</text>
<text x="1302.9" y="812.5" font-size="41.5" font-weight="bold" textLength="73.6" lengthAdjust="spacingAndGlyphs">S3B</text>
<path d="M1572.0,977.5 C1572.3,989.6 1573.1,1027.9 1574.0,1050.0 C1574.9,1072.1 1576.4,1093.3 1577.5,1110.0 C1578.6,1126.7 1579.5,1136.7 1580.5,1150.0 C1581.5,1163.3 1582.1,1179.2 1583.4,1190.0 C1584.7,1200.8 1586.7,1206.2 1588.4,1215.1 C1590.1,1224.0 1591.7,1235.4 1593.4,1243.5 C1595.1,1251.6 1596.7,1259.1 1598.5,1263.6 C1600.3,1268.1 1601.2,1269.2 1604.3,1270.3 C1607.4,1271.3 1613.1,1271.0 1616.9,1269.9 C1620.7,1268.8 1623.3,1265.9 1626.9,1263.6 C1630.5,1261.3 1634.4,1258.0 1638.6,1256.1 C1642.8,1254.2 1648.1,1252.5 1652.0,1252.2 C1655.9,1251.9 1658.4,1252.2 1662.0,1254.4 C1665.6,1256.6 1669.8,1261.5 1673.7,1265.3 C1677.6,1269.1 1681.8,1272.3 1685.4,1277.0 C1689.0,1281.7 1692.4,1289.5 1695.5,1293.7 C1698.6,1297.9 1700.2,1296.4 1703.8,1302.0 C1707.4,1307.6 1713.3,1321.0 1717.2,1327.1 C1721.1,1333.2 1723.9,1334.6 1727.2,1338.8 C1730.5,1343.0 1733.7,1347.7 1737.3,1352.2 C1740.9,1356.7 1745.2,1361.8 1749.0,1365.6 C1752.8,1369.4 1755.7,1372.0 1760.0,1375.0 C1764.3,1378.0 1768.8,1380.8 1775.0,1383.5 C1781.2,1386.2 1793.3,1390.2 1797.0,1391.5" fill="none" stroke="#ff2a2a" stroke-width="1.9" stroke-linejoin="round"/>
<path d="M1572.5,1236.0 C1576.0,1238.9 1586.0,1247.8 1593.4,1253.5 C1600.8,1259.2 1609.9,1265.0 1616.9,1270.3 C1623.9,1275.6 1628.6,1280.0 1635.3,1285.3 C1642.0,1290.6 1648.7,1295.9 1657.0,1302.0 C1665.3,1308.1 1676.5,1316.0 1685.4,1322.1 C1694.3,1328.2 1702.1,1333.2 1710.5,1338.8 C1718.9,1344.4 1728.1,1350.0 1735.6,1355.6 C1743.1,1361.2 1749.8,1368.1 1755.7,1372.3 C1761.6,1376.5 1763.7,1377.5 1770.7,1380.6 C1777.7,1383.7 1793.0,1389.0 1797.5,1390.7" fill="none" stroke="#1a8a1a" stroke-width="1.9" stroke-linejoin="round"/>
<path d="M1797.5,1390.7 C1805.3,1391.5 1827.2,1393.7 1844.3,1395.7 C1861.4,1397.7 1882.4,1400.7 1900.0,1402.7 C1917.6,1404.7 1931.0,1406.2 1950.0,1407.5 C1969.0,1408.8 2003.3,1410.0 2014.0,1410.5" fill="none" stroke="#5cb85c" stroke-width="2.8" stroke-linejoin="round"/>
<line x1="1657" y1="1264.4" x2="1657" y2="1302" stroke="#ff9a33" stroke-width="2.2"/>
<line x1="1612.7" y1="1281.6" x2="1702.1" y2="1281.6" stroke="#ff9a33" stroke-width="2.2"/>
<line x1="1653.5" y1="1302" x2="1661" y2="1302" stroke="#ff9a33" stroke-width="1.8"/>
<rect x="1638.9" y="1021.5" width="31.1" height="221.2" fill="#d9d9d9"/>
<g transform="translate(1667.5,1218.3000000000002) rotate(-90)" font-size="40.4" font-weight="bold"><text textLength="141.6" lengthAdjust="spacingAndGlyphs">127.466</text><text x="150.5" textLength="27.4" lengthAdjust="spacingAndGlyphs">Å</text></g>
<rect x="1568.6" y="756" width="3.8" height="665" fill="#0a0a0a"/>
<rect x="1572.9" y="1416.1" width="441.1" height="5.8" fill="#979797"/>
<rect x="1572.9" y="1420.0500000000002" width="441.1" height="1.85" fill="#979797"/>
<rect x="1568.9" y="1417.85" width="445.1" height="2.3" fill="#000"/>
<rect x="1568.9" y="1420.0500000000002" width="4" height="1.25" fill="#8a8a8a"/>
<line x1="1565" y1="971" x2="1569.5" y2="971" stroke="#222" stroke-width="1.5"/>
<line x1="1565" y1="1193.7" x2="1569.5" y2="1193.7" stroke="#222" stroke-width="1.5"/>
<line x1="1737.3" y1="1419" x2="1737.3" y2="1425" stroke="#444" stroke-width="1.6"/>
<line x1="1995" y1="1419" x2="1995" y2="1434.5" stroke="#333" stroke-width="2.2"/>
<text x="1990.2" y="1469" font-size="29.5" fill="#1c1c1c" textLength="16.2" lengthAdjust="spacingAndGlyphs">2</text>
<text x="1792.1" y="824" font-size="41.5" textLength="56.5" lengthAdjust="spacingAndGlyphs">(h)</text>
<text x="1856.9" y="824" font-size="41.5" font-weight="bold" textLength="73.6" lengthAdjust="spacingAndGlyphs">S4B</text>
<rect x="217.2" y="230.5" width="2" height="5" fill="#a8d8f5"/>
<rect x="217.2" y="256.5" width="2" height="5" fill="#a8d8f5"/>
<rect x="746.6" y="203.5" width="2" height="5" fill="#a8d8f5"/>
<rect x="746.6" y="232" width="2" height="5" fill="#a8d8f5"/>
<rect x="200.3" y="972.5" width="1.6" height="3.5" fill="#f0a060"/>
<rect x="1239.3" y="316.5" width="2" height="2" fill="#f5b060"/>
<text transform="translate(49,1214.5) rotate(-90)" font-size="46.5" textLength="269" lengthAdjust="spacingAndGlyphs">Intesity, a.u.</text>
<text x="275.3" y="1504.5" font-size="47" textLength="69" lengthAdjust="spacingAndGlyphs">2θ,</text>
<text x="357.3" y="1499.2" font-size="57" stroke="#111" stroke-width="0.9">°</text>
</svg>
</body></html>
